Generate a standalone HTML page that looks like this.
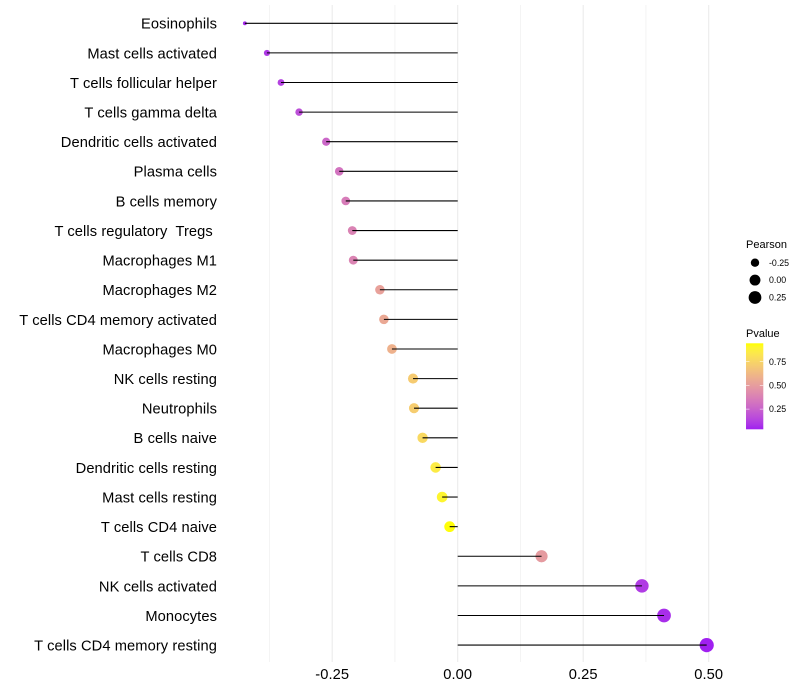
<!DOCTYPE html>
<html>
<head>
<meta charset="utf-8">
<title>Lollipop chart</title>
<style>
html,body{margin:0;padding:0;background:#fff;width:800px;height:700px;overflow:hidden}
svg{display:block}
text{font-family:"Liberation Sans",sans-serif;fill:#000;white-space:pre}
#ylabels text{letter-spacing:0.09px}
#xlabels text{letter-spacing:0.12px}
</style>
</head>
<body>
<svg id="chart" width="800" height="700" viewBox="0 0 800 700" xmlns="http://www.w3.org/2000/svg">
<defs>
<linearGradient id="pvalue-gradient" x1="0" y1="1" x2="0" y2="0"></linearGradient>
</defs>
<rect x="0" y="0" width="800" height="700" fill="#ffffff"></rect>
<g id="grid"></g>
<g id="points"></g>
<g id="stems"></g>
<g id="ylabels"></g>
<g id="xlabels"></g>
<g id="legend-size">
<text x="746" y="248" font-size="11">Pearson</text>
</g>
<g id="legend-color">
<text x="746" y="337" font-size="11">Pvalue</text>
</g>
</svg>
<script>
const categories = ["Eosinophils","Mast cells activated","T cells follicular helper","T cells gamma delta","Dendritic cells activated","Plasma cells","B cells memory","T cells regulatory  Tregs ","Macrophages M1","Macrophages M2","T cells CD4 memory activated","Macrophages M0","NK cells resting","Neutrophils","B cells naive","Dendritic cells resting","Mast cells resting","T cells CD4 naive","T cells CD8","NK cells activated","Monocytes","T cells CD4 memory resting"];
const pearson = [-0.424,-0.38,-0.352,-0.316,-0.262,-0.236,-0.223,-0.21,-0.208,-0.155,-0.147,-0.131,-0.089,-0.087,-0.07,-0.044,-0.031,-0.016,0.167,0.367,0.411,0.496];
const pvalue = [0.06,0.10,0.128,0.175,0.27,0.32,0.355,0.385,0.39,0.52,0.55,0.59,0.71,0.715,0.77,0.855,0.90,0.94,0.49,0.11,0.07,0.036];
const majorTicks = [-0.25,0,0.25,0.5];
const majorTickLabels = ["-0.25","0.00","0.25","0.50"];
const minorTicks = [-0.375,-0.125,0.125,0.375];
const sizeLegendValues = [-0.25,0,0.25];
const sizeLegendLabels = ["-0.25","0.00","0.25"];
const colorLegendValues = [0.25,0.5,0.75];
const colorLegendLabels = ["0.25","0.50","0.75"];
const colorDomain = [0.036,0.944];

const NS = 'http://www.w3.org/2000/svg';
function mk(tag, attrs, parent) {
  const el = document.createElementNS(NS, tag);
  for (const k in attrs) el.setAttribute(k, attrs[k]);
  parent.appendChild(el);
  return el;
}
function xScale(v) { return 457.7 + v * 502; }
function yScale(i) { return 23.28 + i * 29.61; }
const pMin = Math.min.apply(null, pearson);
const pMax = Math.max.apply(null, pearson);
function diameter(v) { return 3.9 + 10.3 * Math.sqrt(Math.max(0, (v - pMin) / (pMax - pMin))); }
function legendY(p) { return 385.4 - (p - 0.5) * 94.8; }

function rgb2lab(c) {
  const l = c.map(function (u) { u /= 255; return u > 0.04045 ? Math.pow((u + 0.055) / 1.055, 2.4) : u / 12.92; });
  const X = (0.4124 * l[0] + 0.3576 * l[1] + 0.1805 * l[2]) / 0.95047;
  const Y = 0.2126 * l[0] + 0.7152 * l[1] + 0.0722 * l[2];
  const Z = (0.0193 * l[0] + 0.1192 * l[1] + 0.9505 * l[2]) / 1.08883;
  const f = function (t) { return t > 0.008856 ? Math.cbrt(t) : 7.787 * t + 16 / 116; };
  return [116 * f(Y) - 16, 500 * (f(X) - f(Y)), 200 * (f(Y) - f(Z))];
}
function lab2rgb(L) {
  const fy = (L[0] + 16) / 116, fx = fy + L[1] / 500, fz = fy - L[2] / 200;
  const g = function (t) { return t * t * t > 0.008856 ? t * t * t : (t - 16 / 116) / 7.787; };
  const X = g(fx) * 0.95047, Y = g(fy), Z = g(fz) * 1.08883;
  const r = [3.2406 * X - 1.5372 * Y - 0.4986 * Z, -0.9689 * X + 1.8758 * Y + 0.0415 * Z, 0.0557 * X - 0.204 * Y + 1.057 * Z];
  return r.map(function (u) {
    u = u > 0.0031308 ? 1.055 * Math.pow(u, 1 / 2.4) - 0.055 : 12.92 * u;
    return Math.round(Math.min(1, Math.max(0, u)) * 255);
  });
}
const labLow = rgb2lab([160, 32, 240]);
const labHigh = rgb2lab([255, 255, 0]);
function colorAt(t) {
  t = Math.min(1, Math.max(0, t));
  const c = lab2rgb([0, 1, 2].map(function (k) { return labLow[k] + (labHigh[k] - labLow[k]) * t; }));
  return 'rgb(' + c.join(',') + ')';
}
function colorScale(p) { return colorAt((p - colorDomain[0]) / (colorDomain[1] - colorDomain[0])); }

const grid = document.getElementById('grid');
const points = document.getElementById('points');
const stems = document.getElementById('stems');
const ylabels = document.getElementById('ylabels');
const xlabels = document.getElementById('xlabels');
const legendSize = document.getElementById('legend-size');
const legendColor = document.getElementById('legend-color');

minorTicks.forEach(function (t) {
  const el = mk('line', {x1: xScale(t), x2: xScale(t), y1: 5, y2: 662, stroke: '#ebebeb', 'stroke-width': 0.55}, grid);
  
  
});
majorTicks.forEach(function (t, i) {
  const el = mk('line', {x1: xScale(t), x2: xScale(t), y1: 5, y2: 662, stroke: '#ebebeb', 'stroke-width': 1.07}, grid);
  
  
  const lab = mk('text', {x: xScale(t), y: 679, 'text-anchor': 'middle', 'font-size': 14.67}, xlabels);
  lab.textContent = majorTickLabels[i];
  
  
});
categories.forEach(function (name, i) {
  const pt = mk('circle', {cx: xScale(pearson[i]), cy: yScale(i), r: diameter(pearson[i]) / 2, fill: colorScale(pvalue[i])}, points);
  
  
  const st = mk('line', {x1: xScale(0), x2: xScale(pearson[i]), y1: yScale(i), y2: yScale(i), stroke: '#000', 'stroke-width': 1.07}, stems);
  
  
  const lab = mk('text', {x: 217, y: yScale(i) + 5.4, 'text-anchor': 'end', 'font-size': 14.67}, ylabels);
  lab.textContent = name;
  
  
});
sizeLegendValues.forEach(function (v, i) {
  const cy = 262.7 + i * 17.4;
  const dot = mk('circle', {cx: 755, cy: cy, r: diameter(v) / 2, fill: '#000'}, legendSize);
  
  
  const lab = mk('text', {x: 769, y: cy + 3.1, 'font-size': 8.8}, legendSize);
  lab.textContent = sizeLegendLabels[i];
  
  
});
const gradient = document.getElementById('pvalue-gradient');
for (let s = 0; s <= 20; s++) {
  mk('stop', {offset: (s / 20), 'stop-color': colorAt(s / 20)}, gradient);
}
const bar = mk('rect', {x: 746, y: 343.3, width: 17.3, height: 86, fill: 'url(#pvalue-gradient)'}, legendColor);


colorLegendValues.forEach(function (v, i) {
  const y = legendY(v);
  const t1 = mk('line', {x1: 746, x2: 749.5, y1: y, y2: y, stroke: '#fff', 'stroke-width': 0.55}, legendColor);
  
  
  const t2 = mk('line', {x1: 759.8, x2: 763.3, y1: y, y2: y, stroke: '#fff', 'stroke-width': 0.55}, legendColor);
  
  
  const lab = mk('text', {x: 769, y: y + 3.1, 'font-size': 8.8}, legendColor);
  lab.textContent = colorLegendLabels[i];
  
  
});
</script>
</body>
</html>
